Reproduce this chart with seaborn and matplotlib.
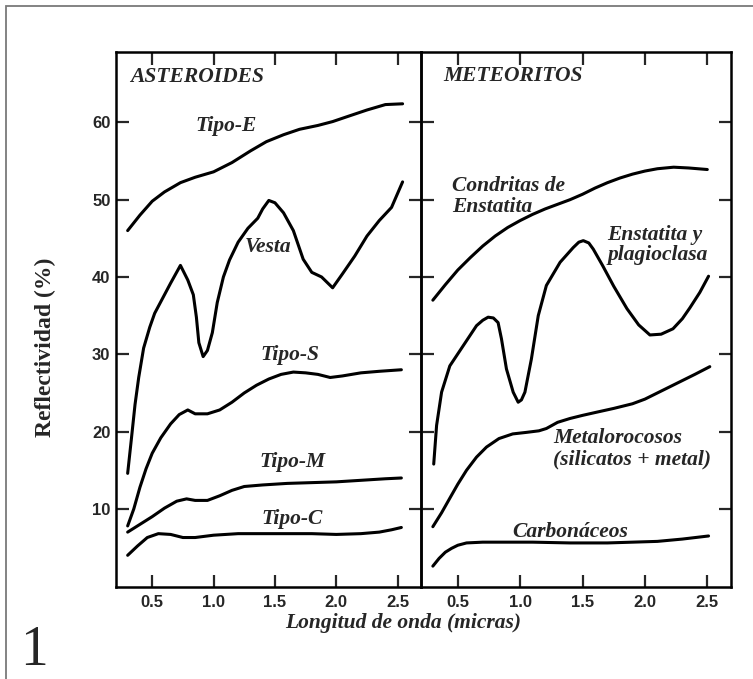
import matplotlib
matplotlib.use("Agg")
import matplotlib.pyplot as plt
import matplotlib.patches as mpatches
import seaborn as sns

# --- data (wavelength in microns, reflectivity in %) ---
tipo_e_x = [0.30, 0.40, 0.50, 0.60, 0.73, 0.85, 1.00, 1.15, 1.30, 1.43, 1.57, 1.70, 1.85, 1.97, 2.10, 2.25, 2.40, 2.54]
tipo_e_y = [46.0, 48.0, 49.8, 51.0, 52.2, 52.9, 53.6, 54.8, 56.3, 57.5, 58.4, 59.1, 59.6, 60.1, 60.8, 61.6, 62.3, 62.4]

vesta_x = [0.30, 0.33, 0.36, 0.39, 0.43, 0.48, 0.52, 0.57, 0.65, 0.73, 0.79, 0.835, 0.86, 0.88, 0.915,
           0.95, 0.99, 1.03, 1.08, 1.13, 1.20, 1.28, 1.36, 1.40, 1.45, 1.50, 1.57, 1.65, 1.73, 1.80, 1.88,
           1.97, 2.05, 2.15, 2.25, 2.35, 2.45, 2.54]
vesta_y = [14.6, 19.0, 23.5, 27.0, 30.8, 33.5, 35.3, 36.8, 39.2, 41.5, 39.6, 37.7, 34.8, 31.5, 29.7,
           30.5, 32.8, 36.7, 40.0, 42.2, 44.5, 46.3, 47.6, 48.8, 49.9, 49.6, 48.3, 46.0, 42.3, 40.6, 40.0,
           38.6, 40.4, 42.7, 45.3, 47.3, 49.0, 52.3]

tipo_s_x = [0.30, 0.35, 0.40, 0.45, 0.50, 0.57, 0.65, 0.72, 0.79, 0.85, 0.95, 1.05, 1.15, 1.25, 1.35,
            1.45, 1.55, 1.65, 1.75, 1.85, 1.95, 2.05, 2.20, 2.35, 2.53]
tipo_s_y = [7.8, 10.0, 12.8, 15.2, 17.2, 19.2, 21.0, 22.2, 22.8, 22.3, 22.3, 22.8, 23.8, 25.0, 26.0,
            26.8, 27.4, 27.7, 27.6, 27.4, 27.0, 27.2, 27.6, 27.8, 28.0]

tipo_m_x = [0.30, 0.40, 0.50, 0.60, 0.70, 0.78, 0.85, 0.95, 1.05, 1.15, 1.25, 1.40, 1.60, 1.80, 2.00, 2.20, 2.40, 2.53]
tipo_m_y = [7.0, 8.0, 9.0, 10.1, 11.0, 11.3, 11.1, 11.1, 11.7, 12.4, 12.9, 13.1, 13.3, 13.4, 13.5, 13.7, 13.9, 14.0]

tipo_c_x = [0.30, 0.38, 0.46, 0.55, 0.65, 0.75, 0.85, 1.00, 1.20, 1.50, 1.80, 2.00, 2.20, 2.35, 2.45, 2.53]
tipo_c_y = [4.0, 5.2, 6.3, 6.8, 6.7, 6.3, 6.3, 6.6, 6.8, 6.8, 6.8, 6.7, 6.8, 7.0, 7.3, 7.6]

condritas_x = [0.30, 0.40, 0.50, 0.60, 0.70, 0.80, 0.90, 1.00, 1.10, 1.20, 1.30, 1.40, 1.50, 1.60,
               1.70, 1.80, 1.90, 2.00, 2.10, 2.23, 2.35, 2.50]
condritas_y = [37.0, 39.0, 40.9, 42.5, 44.0, 45.3, 46.4, 47.3, 48.1, 48.8, 49.4, 50.0, 50.7, 51.5,
               52.2, 52.8, 53.3, 53.7, 54.0, 54.2, 54.1, 53.9]

plagio_x = [0.307, 0.33, 0.37, 0.436, 0.543, 0.65, 0.70, 0.743, 0.785, 0.823, 0.85, 0.89, 0.944, 0.984,
            1.01, 1.038, 1.09, 1.145, 1.21, 1.32, 1.425, 1.47, 1.506, 1.55, 1.586, 1.66, 1.75, 1.856,
            1.95, 2.04, 2.13, 2.225, 2.30, 2.36, 2.44, 2.51]
plagio_y = [15.8, 20.8, 25.1, 28.5, 31.1, 33.7, 34.4, 34.8, 34.7, 34.1, 32.0, 28.1, 25.1, 23.8,
            24.1, 25.1, 29.4, 35.0, 38.9, 41.9, 43.8, 44.5, 44.7, 44.4, 43.6, 41.5, 38.8, 35.9,
            33.8, 32.5, 32.6, 33.3, 34.6, 36.0, 38.0, 40.1]

metal_x = [0.30, 0.37, 0.44, 0.50, 0.57, 0.65, 0.73, 0.83, 0.94, 1.05, 1.15, 1.21, 1.30, 1.40, 1.50,
           1.61, 1.75, 1.90, 2.00, 2.10, 2.20, 2.30, 2.40, 2.52]
metal_y = [7.7, 9.5, 11.5, 13.2, 15.0, 16.7, 18.0, 19.1, 19.7, 19.9, 20.1, 20.4, 21.2, 21.7, 22.1,
           22.5, 23.0, 23.6, 24.2, 25.0, 25.8, 26.6, 27.4, 28.4]

carbon_x = [0.30, 0.35, 0.40, 0.45, 0.50, 0.57, 0.70, 0.90, 1.10, 1.40, 1.70, 1.90, 2.10, 2.30, 2.51]
carbon_y = [2.6, 3.6, 4.4, 4.9, 5.3, 5.6, 5.7, 5.7, 5.7, 5.6, 5.6, 5.7, 5.8, 6.1, 6.5]

x_ticks = [0.5, 1.0, 1.5, 2.0, 2.5]
y_ticks = [10, 20, 30, 40, 50, 60]

SERIF = "Liberation Serif"
SANS = "Liberation Sans"

sns.set_style("white")
plt.rcParams["font.family"] = [SANS, "DejaVu Sans"]

fig = plt.figure(figsize=(7.53, 6.79), dpi=100)
ax_l = fig.add_axes([116 / 753, 1 - 587 / 679, 305 / 753, 535 / 679])
ax_r = fig.add_axes([421 / 753, 1 - 587 / 679, 310 / 753, 535 / 679])

line_kw = dict(color="black", linewidth=2.2, sort=False, estimator=None)
for xs, ys in [(tipo_e_x, tipo_e_y), (vesta_x, vesta_y), (tipo_s_x, tipo_s_y),
               (tipo_m_x, tipo_m_y), (tipo_c_x, tipo_c_y)]:
    sns.lineplot(x=xs, y=ys, ax=ax_l, **line_kw)
for xs, ys in [(condritas_x, condritas_y), (plagio_x, plagio_y),
               (metal_x, metal_y), (carbon_x, carbon_y)]:
    sns.lineplot(x=xs, y=ys, ax=ax_r, **line_kw)

for ax in (ax_l, ax_r):
    ax.set_xlim(0.205, 2.69)
    ax.set_ylim(-0.1, 69.1)
    ax.set_xticks(x_ticks)
    ax.set_xticklabels([f"{t:.1f}" for t in x_ticks])
    ax.set_yticks(y_ticks)
    ax.tick_params(direction="in", length=9, width=1.6, top=True, right=True,
                   left=True, bottom=True, labelsize=12, pad=5.5)
    for lab in ax.get_xticklabels() + ax.get_yticklabels():
        lab.set_fontweight("bold")
    for sp in ax.spines.values():
        sp.set_linewidth(1.8)
        sp.set_color("black")
    ax.set_xlabel("")
    ax.set_ylabel("")
    ax.set_facecolor("none")

ax_l.tick_params(axis="y", pad=4)
ax_r.tick_params(axis="y", labelleft=False)

txt = dict(family=SERIF, fontweight="bold", fontstyle="italic", fontsize=15.5)
ax_l.text(0.32, 65.9, "ASTEROIDES", ha="left", va="center", **txt)
ax_l.text(1.10, 59.5, "Tipo-E", ha="center", va="center", **txt)
ax_l.text(1.44, 43.9, "Vesta", ha="center", va="center", **txt)
ax_l.text(1.62, 29.9, "Tipo-S", ha="center", va="center", **txt)
ax_l.text(1.64, 16.1, "Tipo-M", ha="center", va="center", **txt)
ax_l.text(1.64, 8.7, "Tipo-C", ha="center", va="center", **txt)

ax_r.text(0.38, 66.0, "METEORITOS", ha="left", va="center", **txt)
ax_r.text(0.452, 50.4, "Condritas de\nEnstatita", ha="left", va="center", linespacing=1.05, **txt)
ax_r.text(1.70, 44.1, "Enstatita y\nplagioclasa", ha="left", va="center", linespacing=1.0, **txt)
ax_r.text(1.262, 17.8, "Metalorocosos\n(silicatos + metal)", ha="left", va="center",
          linespacing=1.05, **txt)
ax_r.text(1.40, 7.0, "Carbonáceos", ha="center", va="center", **txt)

fig.text(45 / 753, 1 - 347 / 679, "Reflectividad (%)", rotation=90, ha="center", va="center",
         family=SERIF, fontweight="bold", fontsize=17)
fig.text(403 / 753, 1 - 623 / 679, "Longitud de onda (micras)", ha="center", va="center", **txt)
fig.text(20 / 753, 1 - 665 / 679, "1", ha="left", va="baseline", family=SERIF, fontsize=40)

# gray frame of the original figure (only top and left edges fall inside the image)
fig.add_artist(mpatches.Rectangle((6 / 753, -0.2), 1.5, 1.2 - 6 / 679, transform=fig.transFigure,
                                  fill=False, edgecolor="#7a7a7a", linewidth=1.3))

fig.savefig("out.png", dpi=100)
